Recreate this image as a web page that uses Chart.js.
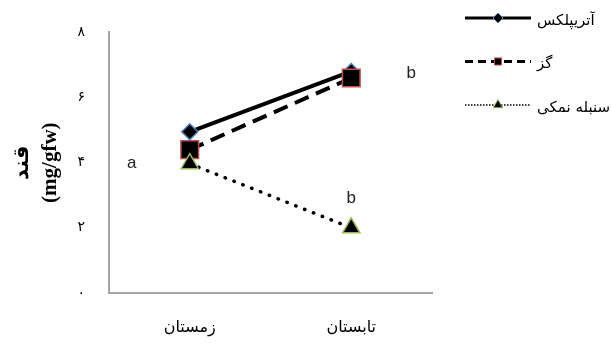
<!DOCTYPE html>
<html>
<head>
<meta charset="utf-8">
<title>قند (mg/gfw)</title>
<script src="https://cdn.jsdelivr.net/npm/chart.js@4.4.0/dist/chart.umd.min.js"></script>
<style>
  body { margin: 0; background: #fff; }
  #wrap { width: 611px; height: 345px; }
</style>
</head>
<body>
<div id="wrap"><canvas id="sugar" width="611" height="345"></canvas></div>
<script>
// seasons on the x axis, one value per season for each species
const seasons = ['زمستان', 'تابستان'];
const seriesNames = ['آتریپلکس', 'گز', 'سنبله نمکی'];
const atriplex = [4.95, 6.8];
const tamarix = [4.4, 6.6];
const aeluropus = [3.97, 2.0];
const yTickText = ['۰', '۲', '۴', '۶', '۸'];
// significance letters and the point (season, series) each one sits beside
const letters = ['a', 'b', 'b'];
const letterAt = [[0, 2], [1, 0], [1, 2]];

const persian = '"DejaVu Sans", sans-serif';

// legend drawn on the right: line, marker in the middle, name after it
const sideLegend = {
  id: 'sideLegend',
  afterDraw(chart) {
    const ctx = chart.ctx;
    const dashes = [[], [8, 5], [1.5, 1.5]];
    const widths = [3, 3, 1.5];
    const sizes = [5, 5, 5.5];
    chart.data.datasets.forEach((ds, i) => {
      const y = 18 + i * 43.5;
      ctx.save();
      ctx.strokeStyle = '#000';
      ctx.lineWidth = widths[i];
      ctx.setLineDash(dashes[i]);
      ctx.beginPath();
      ctx.moveTo(465, y);
      ctx.lineTo(531, y);
      ctx.stroke();
      ctx.setLineDash([]);
      ctx.fillStyle = ds.pointBackgroundColor;
      ctx.strokeStyle = ds.pointBorderColor;
      ctx.lineWidth = 1;
      Chart.helpers.drawPoint(ctx, {pointStyle: ds.pointStyle, radius: sizes[i], borderWidth: 1, rotation: 0}, 498, y);
      ctx.fillStyle = '#000';
      ctx.font = '15px ' + persian;
      ctx.textAlign = 'left';
      ctx.textBaseline = 'middle';
      ctx.fillText(ds.label, 537, y + 3);
      ctx.restore();
    });
  }
};

const letterMarks = {
  id: 'letterMarks',
  afterDatasetsDraw(chart) {
    const ctx = chart.ctx;
    const offsets = [[-58, 0], [60, 2], [0, -30]];
    ctx.save();
    ctx.fillStyle = '#222';
    ctx.font = '17px "Liberation Sans", sans-serif';
    ctx.textAlign = 'center';
    ctx.textBaseline = 'middle';
    letters.forEach((t, i) => {
      const [c, d] = letterAt[i];
      const pt = chart.getDatasetMeta(d).data[c];
      ctx.fillText(t, pt.x + offsets[i][0], pt.y + offsets[i][1]);
    });
    ctx.restore();
  }
};

new Chart(document.getElementById('sugar'), {
  type: 'line',
  data: {
    labels: seasons,
    datasets: [{
      label: seriesNames[0],
      data: atriplex,
      borderColor: '#000',
      borderWidth: 4,
      pointStyle: 'rectRot',
      pointRadius: 8,
      pointBackgroundColor: '#000',
      pointBorderColor: '#4f81bd',
      pointBorderWidth: 1.5,
      order: 3
    }, {
      label: seriesNames[1],
      data: tamarix,
      borderColor: '#000',
      borderWidth: 4,
      borderDash: [15, 8],
      pointStyle: 'rect',
      pointRadius: 12.5,
      pointBackgroundColor: '#000',
      pointBorderColor: '#c0504d',
      pointBorderWidth: 1.5,
      order: 2
    }, {
      label: seriesNames[2],
      data: aeluropus,
      borderColor: '#000',
      borderWidth: 3.5,
      borderDash: [0.5, 9],
      borderCapStyle: 'round',
      pointStyle: 'triangle',
      pointRadius: 10,
      pointBackgroundColor: '#000',
      pointBorderColor: '#9bbb59',
      pointBorderWidth: 1.5,
      order: 1
    }]
  },
  options: {
    responsive: false,
    animation: false,
    devicePixelRatio: 1,
    layout: { padding: { top: 28, right: 179, left: 0, bottom: 0 } },
    plugins: { legend: { display: false }, tooltip: { enabled: false } },
    scales: {
      x: {
        offset: true,
        grid: { display: false, drawTicks: false },
        border: { color: '#a6a6a6', width: 2 },
        ticks: { color: '#000', padding: 25, font: { family: persian, size: 16 } },
        afterFit: (s) => { s.height = 52; }
      },
      y: {
        min: 0,
        max: 8,
        grid: { display: false, drawTicks: false },
        border: { color: '#a6a6a6', width: 2 },
        ticks: {
          stepSize: 2,
          color: '#000',
          padding: 24,
          font: { family: persian, size: 14 },
          callback: (v) => yTickText[v / 2]
        },
        title: {
          display: true,
          text: ['قند', '(mg/gfw)'],
          color: '#000',
          padding: { top: 8, bottom: 0 },
          font: { family: '"Liberation Serif", "DejaVu Sans", serif', size: 21, weight: 'bold', lineHeight: 1.35 }
        },
        afterFit: (s) => { s.width = 109; }
      }
    }
  },
  plugins: [sideLegend, letterMarks]
});
</script>
</body>
</html>
